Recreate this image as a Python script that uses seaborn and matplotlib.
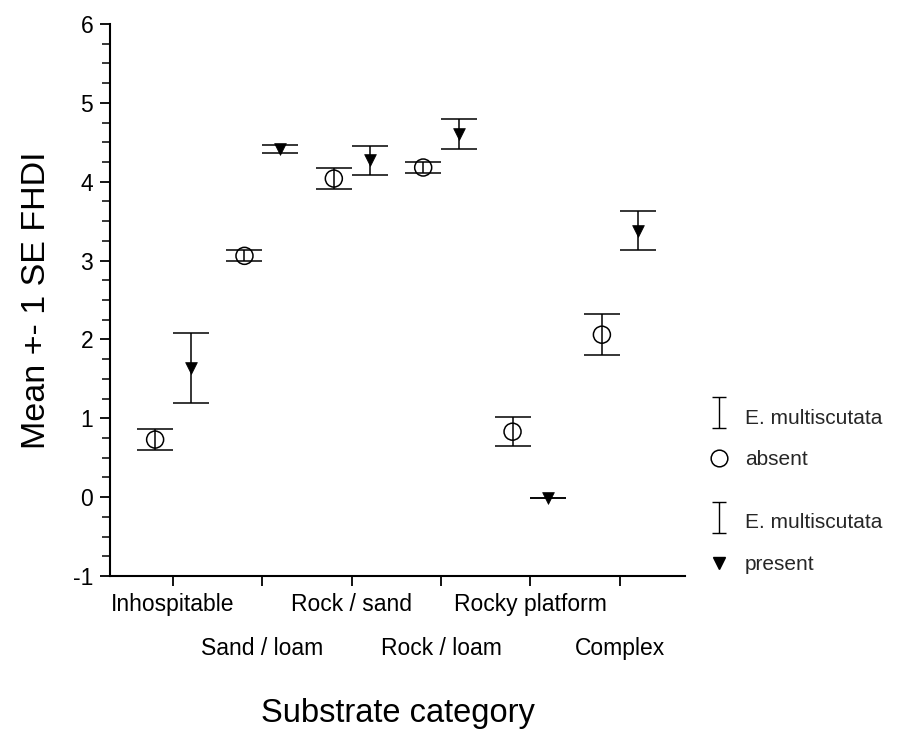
import numpy as np
import pandas as pd
import matplotlib
matplotlib.use("Agg")
import matplotlib.pyplot as plt
from matplotlib.path import Path
from matplotlib.lines import Line2D
from matplotlib.ticker import MultipleLocator
import seaborn as sns

# Substrate categories and FHDI means +/- 1 SE, by E. multiscutata status
categories = ["Inhospitable", "Sand / loam", "Rock / sand",
              "Rock / loam", "Rocky platform", "Complex"]
absent_mean = [0.73, 3.06, 4.04, 4.18, 0.83, 2.06]
absent_se = [0.13, 0.07, 0.135, 0.07, 0.18, 0.26]
present_mean = [1.64, 4.41, 4.27, 4.60, -0.01, 3.38]
present_se = [0.44, 0.05, 0.18, 0.19, 0.0, 0.25]
y_ticks = [-1, 0, 1, 2, 3, 4, 5, 6]

sns.set_theme(style="ticks")
plt.rcParams["font.family"] = ["Liberation Sans", "DejaVu Sans"]
plt.rcParams["axes.linewidth"] = 1.5

pos = np.arange(len(categories))
dodge = 0.2
df = pd.concat([
    pd.DataFrame({"x": pos - dodge, "mean": absent_mean, "se": absent_se,
                  "status": "absent"}),
    pd.DataFrame({"x": pos + dodge, "mean": present_mean, "se": present_se,
                  "status": "present"}),
], ignore_index=True)

fig = plt.figure(figsize=(9.08, 7.31), dpi=100)
ax = fig.add_axes([110 / 908, 1 - 576 / 731, 575 / 908, 552 / 731])

# error bars (mean +/- 1 SE)
ax.errorbar(df["x"], df["mean"], yerr=df["se"], fmt="none", ecolor="black",
            elinewidth=1.1, capsize=13.3, capthick=1.1, zorder=2)

# group means
ab = df[df["status"] == "absent"]
pr = df[df["status"] == "present"]
sns.scatterplot(data=ab, x="x", y="mean", marker="o", s=150,
                facecolor="none", edgecolor="black", linewidth=1.1,
                ax=ax, zorder=3, legend=False)
sns.scatterplot(data=pr, x="x", y="mean", marker="v", s=72,
                color="black", edgecolor="black", linewidth=0.5,
                ax=ax, zorder=3, legend=False)

ax.set_xlim(-0.705, 5.73)
ax.set_ylim(-1, 6)
ax.set_yticks(y_ticks)
ax.set_yticklabels([str(t) for t in y_ticks])
ax.yaxis.set_minor_locator(MultipleLocator(0.25))
ax.set_xticks(pos)
ax.set_xticklabels(categories)
ax.tick_params(axis="both", which="major", length=7, width=1.3,
               color="black", labelsize=16.5, labelcolor="black")
ax.tick_params(axis="y", which="minor", length=6, width=1.1, color="black")
ax.tick_params(axis="y", which="major", pad=5)
base_pad = 5
for i, tick in enumerate(ax.xaxis.get_major_ticks()):
    tick.set_pad(base_pad + (32 if i % 2 else 0))

for side in ("top", "right"):
    ax.spines[side].set_visible(False)
for side in ("left", "bottom"):
    ax.spines[side].set_color("black")

ax.set_xlabel("Substrate category", fontsize=23.5, labelpad=27, color="black")
ax.set_ylabel("Mean +- 1 SE FHDI", fontsize=24.5, labelpad=15, color="black")

# legend glyph: an error bar with caps, sitting slightly high
ibar = Path([(-0.21, 0.61), (0.21, 0.61), (0, 0.61), (0, -0.39),
             (-0.21, -0.39), (0.21, -0.39)],
            [Path.MOVETO, Path.LINETO, Path.MOVETO, Path.LINETO,
             Path.MOVETO, Path.LINETO])
bar_handle = Line2D([], [], marker=ibar, markersize=28, linestyle="none",
                    color="black", markeredgewidth=1.0)
circ_handle = Line2D([], [], marker="o", markersize=12, linestyle="none",
                     markerfacecolor="none", markeredgecolor="black",
                     markeredgewidth=1.1)
tri_handle = Line2D([], [], marker="v", markersize=9, linestyle="none",
                    color="black")

leg_kw = dict(frameon=False, fontsize=15, handlelength=1.0,
              handletextpad=0.75, borderpad=0, borderaxespad=0,
              labelspacing=1.09, loc="center left",
              bbox_transform=fig.transFigure)
leg1 = ax.legend([bar_handle, circ_handle], ["E. multiscutata", "absent"],
                 bbox_to_anchor=(708.6 / 908, 1 - 439 / 731), **leg_kw)
ax.add_artist(leg1)
ax.legend([bar_handle, tri_handle], ["E. multiscutata", "present"],
          bbox_to_anchor=(708.6 / 908, 1 - 543.5 / 731), **leg_kw)

fig.savefig("out.png", dpi=100)
